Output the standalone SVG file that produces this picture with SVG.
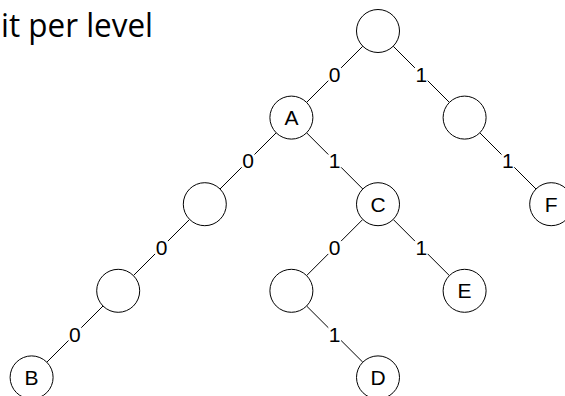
<svg xmlns="http://www.w3.org/2000/svg" width="565" height="396" viewBox="0 0 565 396">
<style>
.n{fill:#fff;stroke:#000;stroke-width:1}
.t{font-family:"Liberation Sans",Arial,sans-serif;font-size:21px;text-anchor:middle;fill:#000}
.e{stroke:#000;stroke-width:1;fill:none}
.title{font-family:"Open Sans","Noto Sans",sans-serif;font-size:32px;fill:#000}
</style>
<rect width="565" height="396" fill="#fff"/>
<text class="title" x="1" y="37" textLength="152" lengthAdjust="spacingAndGlyphs">it per level</text>
<g id="connectors">
<path class="e" d="M362.8,46.2L341.1,67.9M328.3,80.7L306.6,102.4"/>
<path class="e" d="M393.2,46.2L414.9,67.9M427.7,80.7L449.4,102.4"/>
<path class="e" d="M276.2,132.8L254.5,154.5M241.7,167.3L220,189"/>
<path class="e" d="M306.6,132.8L328.3,154.5M341.1,167.3L362.8,189"/>
<path class="e" d="M479.8,132.8L501.5,154.5M514.3,167.3L536,189"/>
<path class="e" d="M189.6,219.4L167.9,241.1M155.1,253.9L133.4,275.6"/>
<path class="e" d="M362.8,219.4L341.1,241.1M328.3,253.9L306.6,275.6"/>
<path class="e" d="M393.2,219.4L414.9,241.1M427.7,253.9L449.4,275.6"/>
<path class="e" d="M103,306L81.3,327.7M68.5,340.5L46.8,362.2"/>
<path class="e" d="M306.6,306L328.3,327.7M341.1,340.5L362.8,362.2"/>
<text class="t" x="334.7" y="81.8">0</text>
<text class="t" x="421.3" y="81.8">1</text>
<text class="t" x="248.1" y="168.4">0</text>
<text class="t" x="334.7" y="168.4">1</text>
<text class="t" x="507.9" y="168.4">1</text>
<text class="t" x="161.5" y="255">0</text>
<text class="t" x="334.7" y="255">0</text>
<text class="t" x="421.3" y="255">1</text>
<text class="t" x="74.9" y="341.6">0</text>
<text class="t" x="334.7" y="341.6">1</text>
</g>
<g id="root"><circle class="n" cx="378" cy="31" r="21.5"/></g>
<g id="A"><circle class="n" cx="291.4" cy="117.6" r="21.5"/><text class="t" x="291.4" y="125.1">A</text></g>
<g id="R1"><circle class="n" cx="464.6" cy="117.6" r="21.5"/></g>
<g id="L2"><circle class="n" cx="204.8" cy="204.2" r="21.5"/></g>
<g id="C"><circle class="n" cx="378" cy="204.2" r="21.5"/><text class="t" x="378" y="211.7">C</text></g>
<g id="F"><circle class="n" cx="551.2" cy="204.2" r="21.5"/><text class="t" x="551.2" y="211.7">F</text></g>
<g id="L3"><circle class="n" cx="118.2" cy="290.8" r="21.5"/></g>
<g id="C0"><circle class="n" cx="291.4" cy="290.8" r="21.5"/></g>
<g id="E"><circle class="n" cx="464.6" cy="290.8" r="21.5"/><text class="t" x="464.6" y="298.3">E</text></g>
<g id="B"><circle class="n" cx="31.6" cy="377.4" r="21.5"/><text class="t" x="31.6" y="384.9">B</text></g>
<g id="D"><circle class="n" cx="378" cy="377.4" r="21.5"/><text class="t" x="378" y="384.9">D</text></g>
</svg>
